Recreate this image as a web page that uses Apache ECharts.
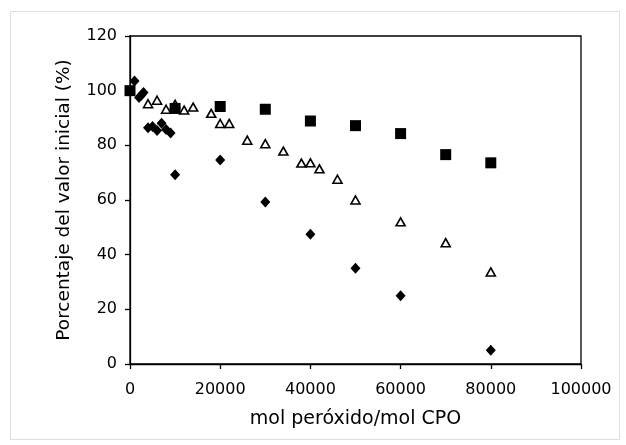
<!DOCTYPE html>
<html>
<head>
<meta charset="utf-8">
<script src="https://cdn.jsdelivr.net/npm/echarts@6/dist/echarts.min.js"></script>
<style>
html,body{margin:0;padding:0;background:#fff;}
#chart{width:626px;height:445px;}
</style>
</head>
<body>
<div id="chart"></div>
<script>
// Squares series
const squaresX = [0, 10000, 20000, 30000, 40000, 50000, 60000, 70000, 80000];
const squaresY = [100, 93.5, 94.2, 93.2, 88.9, 87.2, 84.3, 76.6, 73.6];
// Open triangles series
const trianglesX = [4000, 6000, 8000, 10000, 12000, 14000, 18000, 20000, 22000, 26000, 30000, 34000, 38000, 40000, 42000, 46000, 50000, 60000, 70000, 80000];
const trianglesY = [95.2, 96.5, 93.2, 95.0, 92.9, 94.0, 91.7, 88.0, 88.0, 81.9, 80.6, 77.9, 73.5, 73.6, 71.4, 67.6, 60.0, 52.0, 44.4, 33.7];
// Diamonds series
const diamondsX = [1000, 2000, 2500, 3000, 4000, 5000, 6000, 7000, 8000, 9000, 10000, 20000, 30000, 40000, 50000, 60000, 80000];
const diamondsY = [103.5, 97.5, 98.3, 99.3, 86.4, 86.9, 85.4, 88.1, 85.8, 84.5, 69.2, 74.6, 59.3, 47.5, 35.0, 25.0, 5.0];
// Axis ticks
const xTicks = [0, 20000, 40000, 60000, 80000, 100000];
const yTicks = [0, 20, 40, 60, 80, 100, 120];

const zip = (xs, ys) => xs.map((x, i) => [x, ys[i]]);
const font = 'DejaVu Sans';

const chart = echarts.init(document.getElementById('chart'), null, {renderer: 'canvas'});
chart.setOption({
  animation: false,
  backgroundColor: '#fff',
  graphic: [{
    type: 'rect', left: 8, top: 9, shape: {width: 609, height: 428},
    style: {fill: 'none', stroke: '#dedede', lineWidth: 1}, silent: true
  }],
  grid: {left: 130, right: 45, top: 36, bottom: 81, show: true, borderColor: '#000', borderWidth: 1.3, backgroundColor: 'transparent'},
  xAxis: {
    type: 'value', min: xTicks[0], max: xTicks[xTicks.length - 1], interval: 20000,
    name: 'mol peróxido/mol CPO', nameLocation: 'middle', nameGap: 46,
    nameTextStyle: {fontFamily: font, fontSize: 19, color: '#000'},
    axisLine: {show: true, onZero: false, lineStyle: {color: '#000', width: 1.3}},
    axisTick: {show: true, inside: false, length: 5, lineStyle: {color: '#000', width: 1.3}},
    axisLabel: {fontFamily: font, fontSize: 16, color: '#000', margin: 18, formatter: v => String(v)},
    splitLine: {show: false}
  },
  yAxis: {
    type: 'value', min: yTicks[0], max: yTicks[yTicks.length - 1], interval: 20,
    name: 'Porcentaje del valor inicial (%)', nameLocation: 'middle', nameGap: 56,
    nameTextStyle: {fontFamily: font, fontSize: 18.5, color: '#000'},
    axisLine: {show: true, onZero: false, lineStyle: {color: '#000', width: 1.3}},
    axisTick: {show: true, inside: false, length: 5, lineStyle: {color: '#000', width: 1.3}},
    axisLabel: {fontFamily: font, fontSize: 16, color: '#000', margin: 13},
    splitLine: {show: false}
  },
  series: [
    {
      type: 'scatter', name: 'triangles', data: zip(trianglesX, trianglesY),
      symbol: 'triangle', symbolSize: [9, 8],
      itemStyle: {color: '#fff', borderColor: '#000', borderWidth: 1.6, opacity: 1}
    },
    {
      type: 'scatter', name: 'diamonds', data: zip(diamondsX, diamondsY),
      symbol: 'diamond', symbolSize: [10, 11],
      itemStyle: {color: '#000', opacity: 1}
    },
    {
      type: 'scatter', name: 'squares', data: zip(squaresX, squaresY),
      symbol: 'rect', symbolSize: 11,
      itemStyle: {color: '#000', opacity: 1}
    }
  ]
});
</script>
</body>
</html>
